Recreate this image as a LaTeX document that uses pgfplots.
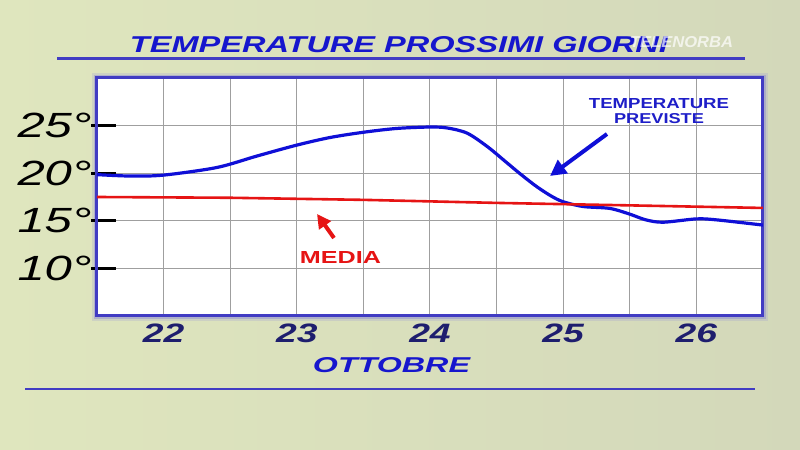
\documentclass[border=0pt]{standalone}
\usepackage{pgfplots}
\pgfplotsset{compat=1.18}
\usepackage{fontspec}
\setmainfont{Liberation Sans}
\usepackage{graphicx}
\usetikzlibrary{arrows.meta}
\definecolor{bgL}{RGB}{223,230,190}
\definecolor{bgR}{RGB}{211,216,186}
\definecolor{ttl}{RGB}{22,22,205}
\definecolor{navy}{RGB}{30,30,110}
\definecolor{frame}{RGB}{65,60,195}
\definecolor{curve}{RGB}{15,15,215}
\definecolor{annb}{RGB}{30,30,200}
\definecolor{med}{RGB}{230,20,20}
\newcommand\yl[1]{\scalebox{1.4}[1]{\fontsize{17.5pt}{18pt}\selectfont\itshape #1°}}
\newcommand\xl[1]{\scalebox{1.4}[1]{\fontsize{13.3pt}{14pt}\selectfont\bfseries\itshape #1}}
\begin{document}
\begin{tikzpicture}[x=0.5pt,y=0.5pt]
\shade[left color=bgL,right color=bgR] (0,0) rectangle (800,450);
% title
\node[inner sep=0pt,text=ttl] at (399,405) {\resizebox{269pt}{8pt}{\bfseries\itshape TEMPERATURE PROSSIMI GIORNI}};
\draw[line width=1.5pt, color=frame] (57,391) -- (745,391);
\node[inner sep=0pt,text=white,opacity=0.7] at (681.5,407.5) {\resizebox{51.5pt}{5.5pt}{\bfseries\itshape TELENORBA}};
% glow around plot
\draw[line width=5pt, color=frame!60, opacity=0.2] (97,134) rectangle (763,372);
\draw[line width=3pt, color=frame!70, opacity=0.35] (97,134) rectangle (763,372);
\begin{axis}[
  at={(48.5pt,67pt)}, anchor=south west,
  width=333pt, height=119pt, scale only axis,
  xmin=21.5, xmax=26.5, ymin=5, ymax=30,
  axis background/.style={fill=white},
  axis line style={frame, line width=1.5pt},
  xtick={22,23,24,25,26},
  xticklabels={\xl{22},\xl{23},\xl{24},\xl{25},\xl{26}},
  minor xtick={22.5,23.5,24.5,25.5},
  ytick={10,15,20,25},
  yticklabels={\yl{10},\yl{15},\yl{20},\yl{25}},
  tick pos=left,
  grid=both,
  major grid style={gray!75, line width=0.5pt},
  minor grid style={gray!75, line width=0.5pt},
  tick align=inside,
  x tick style={draw=none},
  minor tick style={draw=none},
  y tick style={black, line width=1.5pt, xshift=-3pt},
  major tick length=12.5pt,
  xticklabel style={inner sep=0pt, anchor=north, yshift=-4pt, text=navy},
  yticklabel style={inner sep=0pt, anchor=east, xshift=-2.5pt, text=black},
]
\addplot[curve, line width=1.6pt, smooth, tension=0.5] coordinates {
(21.5,19.85) (21.75,19.7) (22.0,19.8) (22.4,20.6) (22.7,21.8) (23.0,22.95)
(23.25,23.75) (23.5,24.3) (23.75,24.7) (24.0,24.85) (24.13,24.75) (24.28,24.2)
(24.43,22.8) (24.56,21.3) (24.68,19.9) (24.8,18.6) (24.91,17.6) (25.0,17.0)
(25.15,16.5) (25.35,16.3) (25.5,15.7) (25.62,15.1) (25.75,14.85) (26.0,15.2)
(26.15,15.1) (26.5,14.55)
};
\addplot[med, line width=1.3pt] coordinates {
(21.5,17.5) (22.5,17.42) (23.5,17.2) (24.5,16.88) (25.5,16.62) (26.5,16.35)
};
\end{axis}
% annotations
\node[inner sep=0pt,text=annb] at (659,346) {\resizebox{70pt}{5pt}{\bfseries TEMPERATURE}};
\node[inner sep=0pt,text=annb] at (659,331) {\resizebox{45pt}{5pt}{\bfseries PREVISTE}};
\draw[curve, line width=2pt, -{Triangle[length=8pt,width=8pt]}] (607,316) -- (550,274);
\node[inner sep=0pt,text=med] at (340.5,192) {\resizebox{40.5pt}{6pt}{\bfseries MEDIA}};
\draw[med, line width=2pt, -{Triangle[length=7pt,width=7pt]}] (334,212) -- (317,236);
\node[inner sep=0pt,text=ttl] at (391.5,84.5) {\resizebox{78.5pt}{7.5pt}{\bfseries\itshape OTTOBRE}};
\draw[line width=1pt, color=frame] (25,61) -- (755,61);
\end{tikzpicture}
\end{document}
